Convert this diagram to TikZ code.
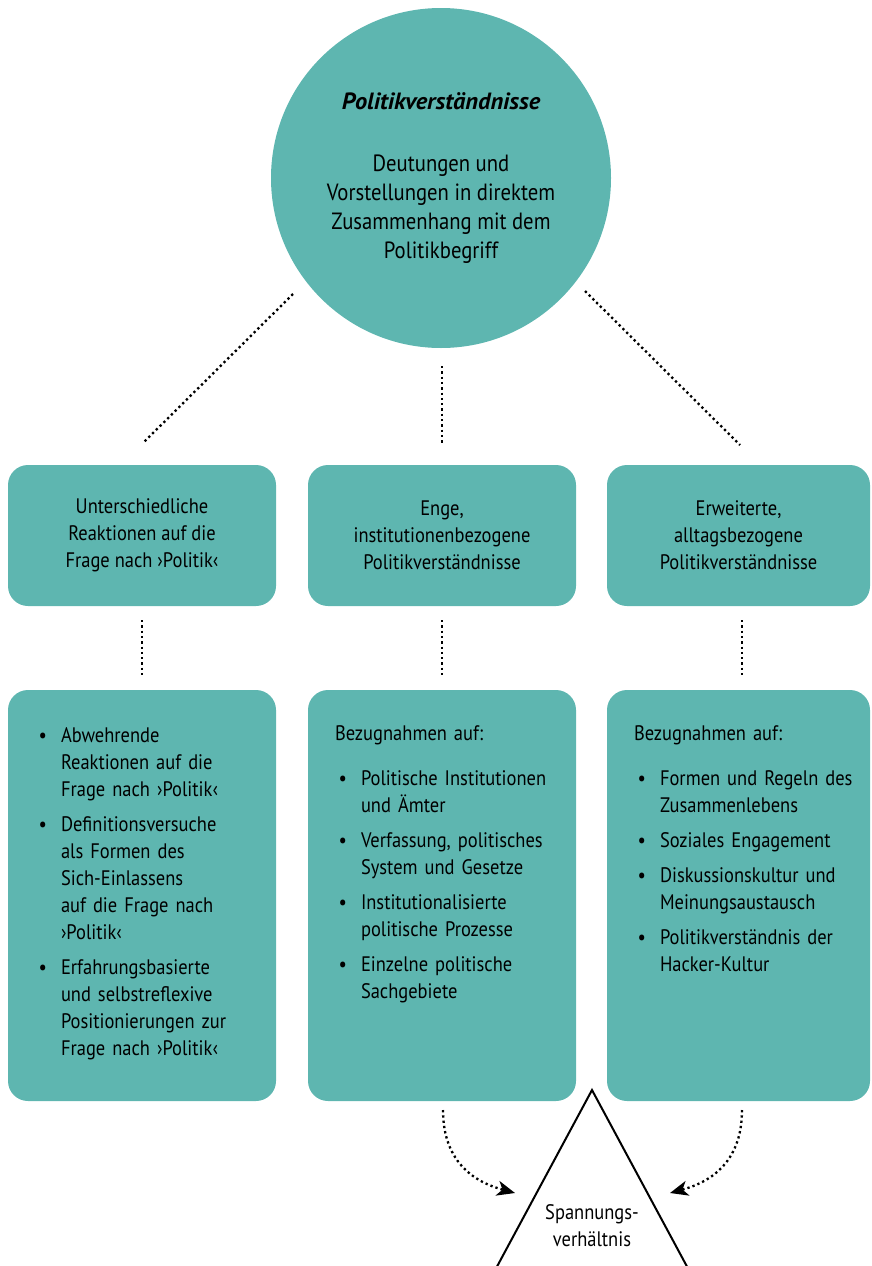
\documentclass[tikz,border=0pt]{standalone}
\usepackage{fontspec}
\setmainfont[FakeStretch=0.88]{PT Sans}
\newfontfamily\titlefont[FakeStretch=1.04]{PT Sans}
\usepackage{enumitem}
\usetikzlibrary{arrows.meta}
\definecolor{polteal}{HTML}{5EB6B0}
\setlist[itemize]{label=\textbullet,leftmargin=26pt,labelsep=14pt,itemsep=8pt,topsep=0pt,parsep=0pt,partopsep=0pt}

\begin{document}
\begin{tikzpicture}[x=1pt,y=-1pt,
  box/.style={fill=polteal,rounded corners=20pt,inner sep=0pt},
  txt/.style={font=\fontsize{21}{27}\selectfont,align=center},
  list/.style={font=\fontsize{21}{27}\selectfont,align=left,text width=245pt,inner sep=0pt,anchor=north west},
  dots/.style={line width=2.3pt,dash pattern=on 2.3pt off 3pt}]
\useasboundingbox (0,0) rectangle (871,1266);
\clip (0,0) rectangle (871,1266);

% circle on top
\node[circle,fill=polteal,minimum size=340pt,inner sep=0pt,align=center,font=\fontsize{23.5}{29}\selectfont] (circ) at (441,178)
  {{\titlefont\bfseries\itshape Politikverständnisse}\\[33pt]Deutungen und\\Vorstellungen in direktem\\Zusammenhang mit dem\\Politikbegriff};

% upper boxes
\node[box,txt,minimum width=268pt,minimum height=141pt] (upL) at (142,535.5)
  {Unterschiedliche\\Reaktionen auf die\\Frage nach ›Politik‹};
\node[box,txt,minimum width=268pt,minimum height=141pt] (upM) at (442,535.5)
  {Enge,\\institutionenbezogene\\Politikverständnisse};
\node[box,txt,minimum width=263pt,minimum height=141pt] (upR) at (738.5,535.5)
  {Erweiterte,\\alltagsbezogene\\Politikverständnisse};

% lower boxes
\node[box,minimum width=268pt,minimum height=411pt] (lowL) at (142,895.5) {};
\node[box,minimum width=268pt,minimum height=411pt] (lowM) at (442,895.5) {};
\node[box,minimum width=263pt,minimum height=411pt] (lowR) at (738.5,895.5) {};

\node[list] (lowLtxt) at ([shift={(27pt,-25.5pt)}]lowL.north west) {%
  \begin{itemize}
  \item Abwehrende\newline Reaktionen auf die\newline Frage nach ›Politik‹
  \item Definitionsversuche\newline als Formen des\newline Sich-Einlassens\newline auf die Frage nach\newline ›Politik‹
  \item Erfahrungsbasierte\newline und selbstreflexive\newline Positionierungen zur\newline Frage nach ›Politik‹
  \end{itemize}};
\node[list] (lowMtxt) at ([shift={(27pt,-36pt)}]lowM.north west) {%
  Bezugnahmen auf:\par\vspace{18pt}
  \begin{itemize}
  \item Politische Institutionen\newline und Ämter
  \item Verfassung, politisches\newline System und Gesetze
  \item Institutionalisierte\newline politische Prozesse
  \item Einzelne politische\newline Sachgebiete
  \end{itemize}};
\node[list] (lowRtxt) at ([shift={(27pt,-36pt)}]lowR.north west) {%
  Bezugnahmen auf:\par\vspace{18pt}
  \begin{itemize}
  \item Formen und Regeln des\newline Zusammenlebens
  \item Soziales Engagement
  \item Diskussionskultur und\newline Meinungsaustausch
  \item Politikverständnis der\newline Hacker-Kultur
  \end{itemize}};

% triangle
\coordinate (T) at (592,1090);
\coordinate (TL) at (479,1300);
\coordinate (TR) at (705,1300);
\draw[line width=2pt,line join=miter] (TL) -- (T) -- (TR);
\node[txt] (tens) at (592,1226) {Spannungs-\\verhältnis};

% dotted connectors
\coordinate (L1) at (293,294);  \coordinate (L2) at (143,443);
\coordinate (M1) at (442,366);  \coordinate (M2) at (442,443);
\coordinate (R1) at (585,291);  \coordinate (R2) at (740,445);
\draw[dots] (L1) -- (L2);
\draw[dots] (M1) -- (M2);
\draw[dots] (R1) -- (R2);

\coordinate (VL1) at (142,620);  \coordinate (VL2) at (142,678);
\coordinate (VM1) at (442,620);  \coordinate (VM2) at (442,678);
\coordinate (VR1) at (742,620);  \coordinate (VR2) at (742,678);
\draw[dots] (VL1) -- (VL2);
\draw[dots] (VM1) -- (VM2);
\draw[dots] (VR1) -- (VR2);

% arrows into the triangle
\coordinate (A1) at (443,1110);  \coordinate (A2) at (515,1193);
\coordinate (B1) at (742,1110);  \coordinate (B2) at (670,1193);
\draw[dots,-{Stealth[length=18pt,width=15pt,inset=5pt]}] (A1) .. controls (443,1165) and (478,1183) .. (A2);
\draw[dots,-{Stealth[length=18pt,width=15pt,inset=5pt]}] (B1) .. controls (742,1165) and (707,1183) .. (B2);

\end{tikzpicture}
\end{document}
